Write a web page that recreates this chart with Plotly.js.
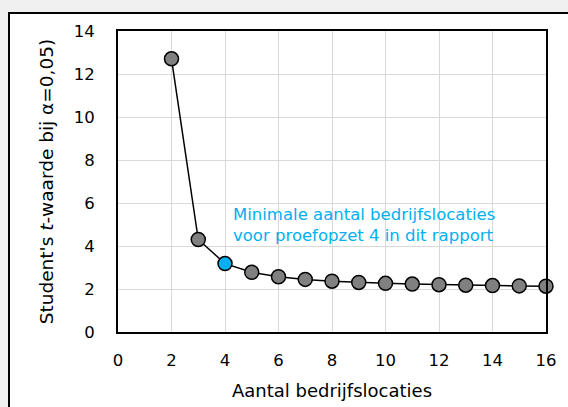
<!DOCTYPE html>
<html>
<head>
<meta charset="utf-8">
<script src="https://cdn.plot.ly/plotly-3.0.1.min.js"></script>
<style>
  html, body { margin: 0; padding: 0; background: #f0f0f0; overflow: hidden; width: 568px; height: 407px; }
  #frame { position: absolute; left: 8px; top: 12px; border: 2px solid #000; background: #fff; width: 570px; height: 400px; }
  #chart { width: 570px; height: 400px; }
</style>
</head>
<body>
<div id="frame"><div id="chart"></div></div>
<script>
const locations = [2, 3, 4, 5, 6, 7, 8, 9, 10, 11, 12, 13, 14, 15, 16];
const tValues = [12.706, 4.303, 3.182, 2.776, 2.571, 2.447, 2.365, 2.306, 2.262, 2.228, 2.201, 2.179, 2.160, 2.145, 2.131];
const highlightLocation = 4;
const xTicks = [0, 2, 4, 6, 8, 10, 12, 14, 16];
const yTicks = [0, 2, 4, 6, 8, 10, 12, 14];
const xTitle = 'Aantal bedrijfslocaties';
const yTitle = "Student's <i>t</i>-waarde bij α=0,05)";
const noteText = 'Minimale aantal bedrijfslocaties<br>voor proefopzet 4 in dit rapport';

const gray = '#808080';
const blue = '#00b0f0';
const markerColors = locations.map(n => n === highlightLocation ? blue : gray);

const family = 'DejaVu Sans, Verdana, sans-serif';
const font = { family: family, size: 16.5, color: '#000' };
const titleFont = { family: family, size: 18, color: '#000' };

const trace = {
  x: locations,
  y: tValues,
  type: 'scatter',
  mode: 'lines+markers',
  line: { color: '#000', width: 1.5 },
  marker: { size: 14, color: markerColors, line: { color: '#000', width: 1.5 } },
  cliponaxis: false,
  hoverinfo: 'skip'
};

const layout = {
  width: 570,
  height: 400,
  margin: { l: 108, r: 34, t: 17, b: 82 },
  paper_bgcolor: '#fff',
  plot_bgcolor: '#fff',
  font: font,
  showlegend: false,
  xaxis: {
    range: [0, 16],
    tickvals: xTicks,
    ticktext: xTicks.map(String),
    showgrid: true,
    gridcolor: '#d9d9d9',
    gridwidth: 1,
    zeroline: false,
    showline: true,
    linecolor: '#000',
    linewidth: 2,
    mirror: true,
    ticks: '',
    ticklabelstandoff: 12,
    tickfont: font,
    title: { text: xTitle, font: titleFont, standoff: 16 }
  },
  yaxis: {
    range: [0, 14],
    tickvals: yTicks,
    ticktext: yTicks.map(String),
    showgrid: true,
    gridcolor: '#d9d9d9',
    gridwidth: 1,
    zeroline: false,
    showline: true,
    linecolor: '#000',
    linewidth: 2,
    mirror: true,
    ticks: '',
    ticklabelstandoff: 18,
    tickfont: font,
    title: { text: yTitle, font: { family: family, size: 18.5, color: '#000' }, standoff: 15 }
  },
  annotations: [{
    x: 4.24,
    y: 4.98,
    xref: 'x',
    yref: 'y',
    xanchor: 'left',
    yanchor: 'middle',
    align: 'left',
    showarrow: false,
    text: noteText,
    font: { family: family, size: 16.5, color: blue }
  }]
};

Plotly.newPlot('chart', [trace], layout, { displayModeBar: false, staticPlot: true });
</script>
</body>
</html>
